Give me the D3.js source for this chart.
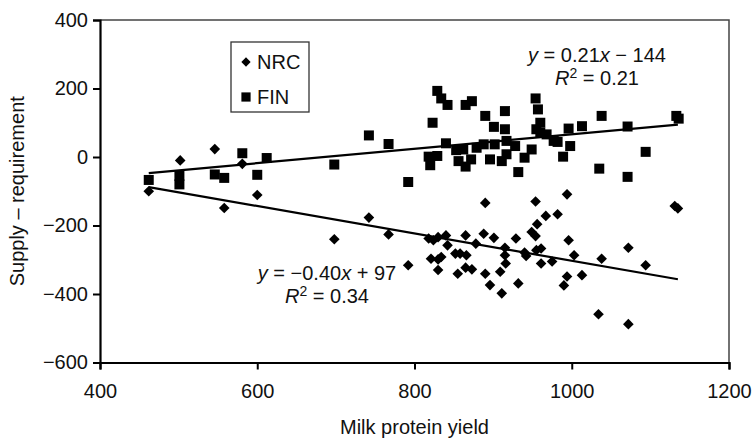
<!DOCTYPE html>
<html lang="en">
<head>
<meta charset="UTF-8">
<title>Supply - requirement vs milk protein yield</title>
<script src="https://d3js.org/d3.v7.min.js"></script>
<style>
  body { margin: 0; background: #fff; }
  text { font-family: "Liberation Sans", Arial, sans-serif; fill: #111; }
</style>
</head>
<body>
<div id="chart"></div>
<script>
// data
var nrcX = [462, 502, 546, 581, 600, 558, 698, 742, 767, 792, 890, 818, 824, 830, 840, 842, 865, 878, 888, 901,
            915, 929, 821, 830, 834, 830, 852, 858, 866, 855, 865, 873, 890, 896, 909, 916, 915, 911, 932, 994,
            954, 967, 982, 956, 949, 954, 996, 940, 942, 955, 961, 961, 975, 1003, 1038, 994, 990, 1013, 1034, 1131,
            1135, 1072, 1094, 1072];
var nrcY = [-100, -10, 23, -20, -111, -149, -240, -177, -226, -316, -134, -238, -243, -234, -229, -258, -229, -253, -224, -236,
            -265, -238, -297, -299, -292, -330, -282, -282, -287, -341, -323, -328, -341, -374, -335, -311, -287, -398, -369, -109,
            -130, -172, -167, -196, -219, -231, -243, -279, -289, -272, -267, -311, -305, -287, -297, -349, -375, -345, -459, -143,
            -150, -265, -316, -488];

var finX = [462, 501, 501, 546, 558, 581, 600, 612, 698, 742, 767, 792, 823, 829, 834, 842, 865, 873, 890, 915,
            901, 915, 840, 818, 829, 820, 853, 856, 865, 872, 862, 879, 888, 896, 902, 911, 917, 917, 928, 932,
            954, 957, 1038, 960, 955, 960, 968, 977, 996, 1013, 998, 989, 940, 949, 982, 1035, 1133, 1136, 1071, 1094,
            1071];
var finY = [-67, -55, -80, -51, -61, 11, -52, -3, -22, 63, 38, -73, 100, 193, 171, 152, 152, 163, 120, 134,
            88, 81, 40, 1, 3, -24, 20, -12, -28, -7, 22, 27, 37, -7, 37, -12, 47, 8, 32, -44,
            171, 139, 120, 100, 81, 71, 66, 47, 83, 90, 32, 1, -2, 22, 44, -34, 120, 112, 89, 15,
            -58];

// fitted trend lines (slope, intercept) and x-range
var finFit = [0.21, -144];
var nrcFit = [-0.40, 97];
var fitRange = [462, 1135];

var xTicks = [400, 600, 800, 1000, 1200];
var yTicks = [-600, -400, -200, 0, 200, 400];

var width = 754, height = 438;
var mLeft = 100, mRight = 729, mTop = 20, mBottom = 362.5;

var svg = d3.select("#chart").append("svg")
    .attr("width", width)
    .attr("height", height);

var x = d3.scaleLinear().domain([400, 1200]).range([mLeft, mRight]);
var y = d3.scaleLinear().domain([-600, 400]).range([mBottom, mTop]);

function fmt(d) { return d < 0 ? "\u2212" + Math.abs(d) : String(d); }

// top and right frame
svg.append("path")
    .attr("d", "M" + mLeft + "," + mTop + "H" + mRight + "V" + mBottom)
    .attr("fill", "none")
    .attr("stroke", "#444")
    .attr("stroke-width", 1.5);

// axes
var xAxis = svg.append("g")
    .attr("transform", "translate(0," + mBottom + ")")
    .call(d3.axisBottom(x).tickValues(xTicks).tickFormat(fmt).tickSizeOuter(0).tickSize(7).tickPadding(14));

var yAxis = svg.append("g")
    .attr("transform", "translate(" + mLeft + ",0)")
    .call(d3.axisLeft(y).tickValues(yTicks).tickFormat(fmt).tickSizeOuter(0).tickSize(7).tickPadding(5));

[xAxis, yAxis].forEach(function(a) {
    a.select(".domain").attr("stroke", "#000").attr("stroke-width", 2.2);
    a.selectAll(".tick line").attr("stroke", "#000").attr("stroke-width", 2);
    a.selectAll(".tick text")
        .attr("font-size", 20)
        .attr("font-family", "Liberation Sans, Arial, sans-serif")
        .attr("fill", "#111");
});

// axis titles
svg.append("text")
    .attr("x", (mLeft + mRight) / 2)
    .attr("y", 434)
    .attr("text-anchor", "middle")
    .attr("font-size", 20)
    .text("Milk protein yield");

svg.append("text")
    .attr("transform", "translate(24," + (mTop + mBottom) / 2 + ") rotate(-90)")
    .attr("text-anchor", "middle")
    .attr("font-size", 20)
    .text("Supply \u2013 requirement");

// trend lines
[finFit, nrcFit].forEach(function(f) {
    svg.append("line")
        .attr("x1", x(fitRange[0])).attr("y1", y(f[0] * fitRange[0] + f[1]))
        .attr("x2", x(fitRange[1])).attr("y2", y(f[0] * fitRange[1] + f[1]))
        .attr("stroke", "#000")
        .attr("stroke-width", 2.2);
});

// markers
var diamond = d3.symbol().type(d3.symbolDiamond2).size(72);
var square = d3.symbol().type(d3.symbolSquare).size(100);

svg.append("g").selectAll("path")
    .data(d3.range(finX.length))
    .enter().append("path")
    .attr("d", square)
    .attr("transform", function(i) { return "translate(" + x(finX[i]) + "," + y(finY[i]) + ")"; })
    .attr("fill", "#000");

svg.append("g").selectAll("path")
    .data(d3.range(nrcX.length))
    .enter().append("path")
    .attr("d", diamond)
    .attr("transform", function(i) { return "translate(" + x(nrcX[i]) + "," + y(nrcY[i]) + ")"; })
    .attr("fill", "#000");

// legend
var lg = svg.append("g");
lg.append("rect")
    .attr("x", 231).attr("y", 42).attr("width", 78).attr("height", 70)
    .attr("fill", "#fff").attr("stroke", "#333").attr("stroke-width", 1.3);
lg.append("path").attr("d", d3.symbol().type(d3.symbolDiamond2).size(55))
    .attr("transform", "translate(246,62)").attr("fill", "#000");
lg.append("text").attr("x", 257).attr("y", 69).attr("font-size", 20).text("NRC");
lg.append("path").attr("d", d3.symbol().type(d3.symbolSquare).size(85))
    .attr("transform", "translate(246,97)").attr("fill", "#000");
lg.append("text").attr("x", 257).attr("y", 104).attr("font-size", 20).text("FIN");

// equations
function equation(cx, cy, slopeTxt, icpt, r2) {
    var t1 = svg.append("text").attr("x", cx).attr("y", cy)
        .attr("text-anchor", "middle").attr("font-size", 20);
    t1.append("tspan").attr("font-style", "italic").text("y");
    t1.append("tspan").text(" = " + slopeTxt);
    t1.append("tspan").attr("font-style", "italic").text("x");
    t1.append("tspan").text(icpt < 0 ? " \u2212 " + Math.abs(icpt) : " + " + icpt);

    var t2 = svg.append("text").attr("x", cx).attr("y", cy + 23)
        .attr("text-anchor", "middle").attr("font-size", 20);
    t2.append("tspan").attr("font-style", "italic").text("R");
    t2.append("tspan").attr("font-size", 14).attr("dy", -7).text("2");
    t2.append("tspan").attr("dy", 7).text(" = " + r2);
}

equation(597, 62, "0.21", finFit[1], "0.21");
equation(327, 280, "\u22120.40", nrcFit[1], "0.34");
</script>
</body>
</html>
